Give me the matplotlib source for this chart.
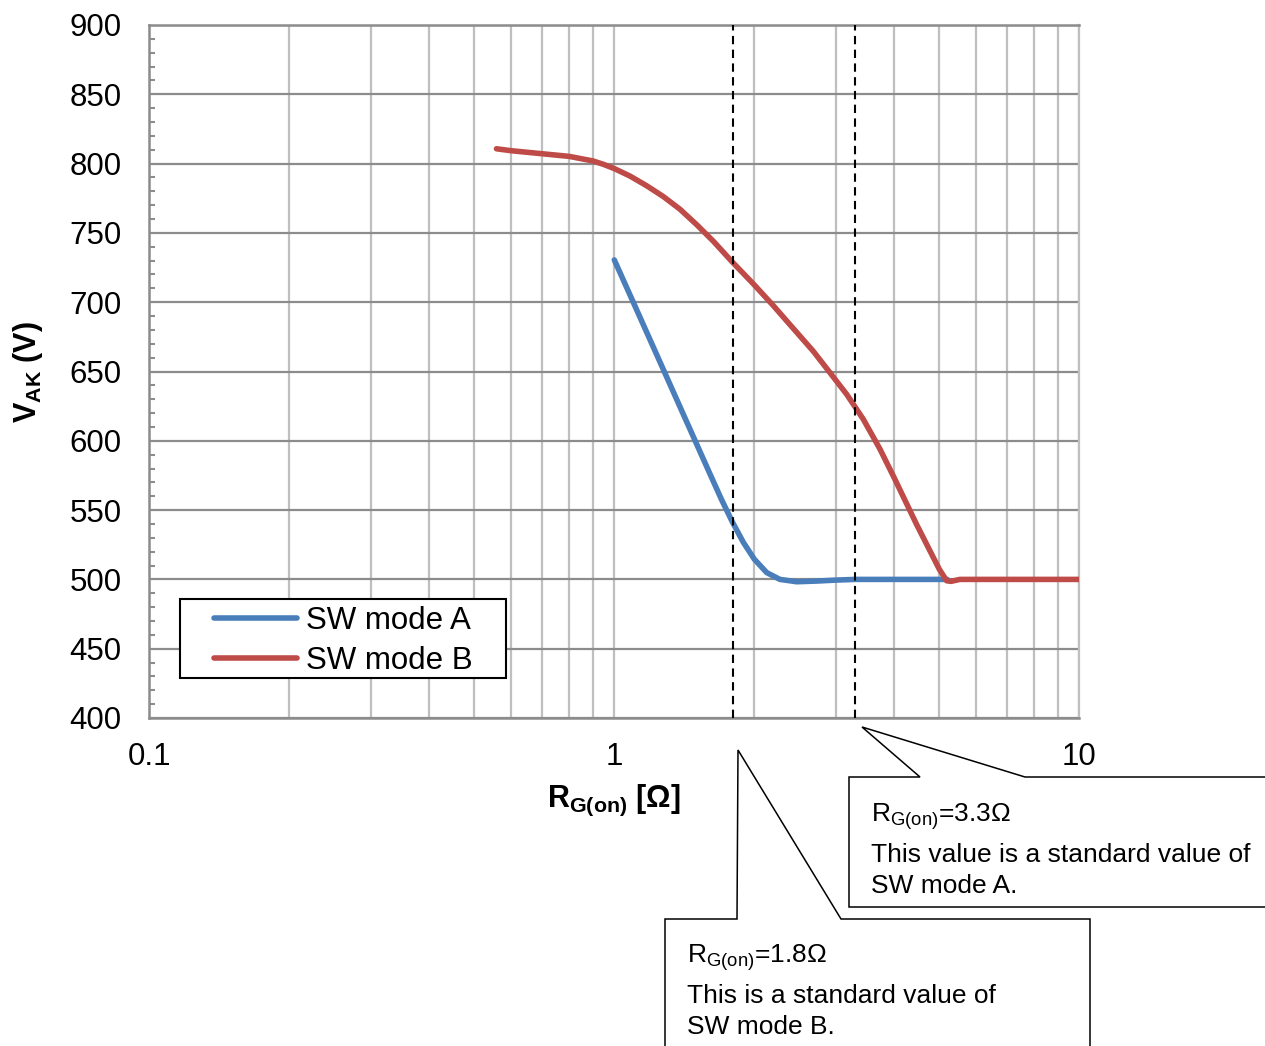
import numpy as np
import matplotlib
matplotlib.use("Agg")
import matplotlib.pyplot as plt
from matplotlib.ticker import LogLocator, FixedLocator, NullFormatter, MultipleLocator
from matplotlib.patches import Polygon, Rectangle

plt.rcParams['font.family'] = ['Liberation Sans', 'DejaVu Sans']
plt.rcParams['mathtext.fontset'] = 'custom'
plt.rcParams['mathtext.rm'] = 'Liberation Sans'
plt.rcParams['mathtext.it'] = 'Liberation Sans:italic'
plt.rcParams['mathtext.bf'] = 'Liberation Sans:bold'

# ---- data ----
rg_a = [1.00, 1.081, 1.174, 1.275, 1.384, 1.503, 1.606, 1.70, 1.794, 1.894,
        2.0, 2.127, 2.271, 2.467, 2.724, 3.0, 3.3, 4.0, 5.2]
vak_a = [730.5, 705.2, 678.3, 651.4, 624.6, 597.7, 576.1, 557.7, 541.5, 526.8,
         514.6, 504.9, 500.0, 498.3, 498.8, 499.5, 500.0, 500.0, 500.0]

rg_b = [0.558, 0.6, 0.7, 0.8, 0.9, 0.947, 1.0, 1.081, 1.174, 1.275,
        1.384, 1.503, 1.633, 1.794, 2.0, 2.198, 2.427, 2.679, 2.910, 3.161,
        3.432, 3.727, 4.0, 4.47, 5.0, 5.186, 5.3, 5.538, 7.0, 10.0]
vak_b = [810.7, 809.3, 807.1, 805.2, 801.9, 799.5, 796.4, 791.0, 784.0, 776.2,
         767.1, 756.0, 744.0, 729.0, 712.5, 697.5, 681.0, 664.6, 649.1, 633.5,
         615.5, 594.0, 573.2, 539.5, 507.3, 499.0, 498.6, 500.0, 500.0, 500.0]

series_labels = ['SW mode A', 'SW mode B']
std_values = [1.8, 3.3]
x_ticks = [0.1, 1, 10]
x_tick_labels = ['0.1', '1', '10']
y_ticks = [400, 450, 500, 550, 600, 650, 700, 750, 800, 850, 900]

W, H = 1265, 1046
fig = plt.figure(figsize=(W / 100, H / 100), dpi=100)

def fx(px):
    return px / W

def fy(py):
    return 1 - py / H

ax = fig.add_axes([fx(149.3), fy(718), fx(1079.3) - fx(149.3), fy(25) - fy(718)])
ax.set_xscale('log')
ax.set_xlim(0.1, 10)
ax.set_ylim(400, 900)

# grid
ax.xaxis.set_major_locator(FixedLocator(x_ticks))
ax.xaxis.set_minor_locator(LogLocator(base=10, subs=np.arange(2, 10)))
ax.xaxis.set_minor_formatter(NullFormatter())
ax.set_xticks(x_ticks)
ax.set_xticklabels(x_tick_labels)
ax.set_yticks(y_ticks)
ax.yaxis.set_minor_locator(MultipleLocator(10))
ax.grid(True, which='both', axis='x', color='#BFBFBF', lw=1.6)
ax.grid(True, which='major', axis='y', color='#8C8C8C', lw=1.6)
ax.set_axisbelow(True)

for s in ['left', 'bottom', 'top']:
    ax.spines[s].set_color('#8C8C8C')
    ax.spines[s].set_linewidth(1.8)
ax.spines['right'].set_color('#BFBFBF')
ax.spines['right'].set_linewidth(1.6)

ax.tick_params(axis='both', which='major', length=0, labelsize=22.5, colors='black')
ax.tick_params(axis='y', which='major', pad=20)
ax.tick_params(axis='x', which='major', pad=17)
ax.tick_params(axis='y', which='minor', direction='in', length=4.5, width=1.5,
               color='#8C8C8C', left=True)
ax.tick_params(axis='x', which='minor', length=0)

# curves
ax.plot(rg_a, vak_a, color='#4A7EBB', lw=4.0, solid_capstyle='round',
        solid_joinstyle='round', label=series_labels[0], zorder=3)
ax.plot(rg_b, vak_b, color='#BE4B48', lw=4.0, solid_capstyle='round',
        solid_joinstyle='round', label=series_labels[1], zorder=4)

for v in std_values:
    ax.axvline(v, color='black', lw=1.5, dashes=(4, 2.6), zorder=5)

# legend
ax.add_patch(Rectangle((fx(180), fy(678)), fx(506) - fx(180), fy(599) - fy(678),
                       transform=fig.transFigure, clip_on=False, facecolor='white',
                       edgecolor='black', lw=1.5, zorder=6))
leg = ax.legend(loc='upper left', bbox_to_anchor=(fx(214), fy(606)),
                bbox_transform=fig.transFigure, frameon=False, fontsize=22.5,
                handlelength=2.65, handletextpad=0.3, borderpad=0, borderaxespad=0,
                labelspacing=0.32)
for h in leg.get_lines():
    h.set_linewidth(4.0)
    h.set_solid_capstyle('round')
leg.set_zorder(7)

# axis labels
fig.text(fx(614), fy(800), r'R$_{\mathbf{G(on)}}$ [Ω]', ha='center', va='center',
         fontsize=22, fontweight='bold')
fig.text(fx(28), fy(372), r'V$_{\mathbf{AK}}$ (V)', ha='center', va='center',
         fontsize=22, fontweight='bold', rotation=90)

# callouts
poly_a = [(849, 777), (920, 777), (862, 727), (1025, 777), (1275, 777),
          (1275, 907), (849, 907)]
poly_b = [(665, 919), (737, 919), (738, 750), (841, 919), (1090, 919),
          (1090, 1060), (665, 1060)]
for poly in (poly_a, poly_b):
    fig.add_artist(Polygon([(fx(x), fy(y)) for x, y in poly], closed=True,
                           transform=fig.transFigure, facecolor='white',
                           edgecolor='black', lw=1.1, zorder=7))

tkw = dict(fontsize=19, ha='left', va='baseline', zorder=8)
fig.text(fx(871), fy(822), r'R$_{\mathrm{G(on)}}$=3.3Ω', **tkw)
fig.text(fx(871), fy(862), 'This value is a standard value of', **tkw)
fig.text(fx(871), fy(893), 'SW mode A.', **tkw)
fig.text(fx(687), fy(963), r'R$_{\mathrm{G(on)}}$=1.8Ω', **tkw)
fig.text(fx(687), fy(1003), 'This is a standard value of', **tkw)
fig.text(fx(687), fy(1034), 'SW mode B.', **tkw)

fig.savefig('out.png', dpi=100)
